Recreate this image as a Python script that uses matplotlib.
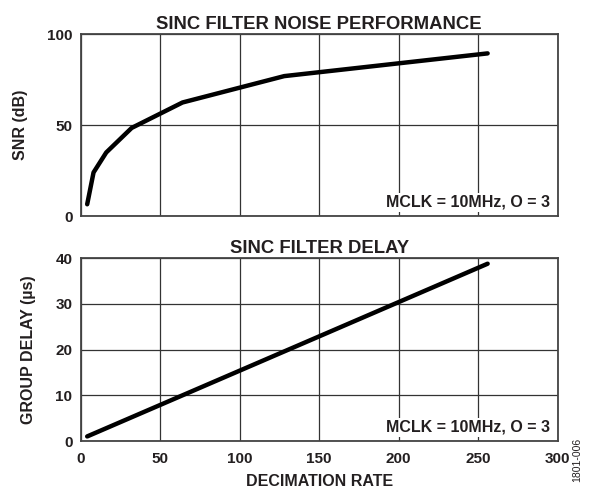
import matplotlib
matplotlib.use("Agg")
import matplotlib.pyplot as plt

plt.rcParams['font.family'] = ['Liberation Sans', 'DejaVu Sans']
plt.rcParams['font.weight'] = 'bold'

# decimation rates (sinc3 filter, MCLK = 10MHz)
decimation = [4, 8, 16, 32, 64, 128, 256]
snr_db = [6.5, 24, 35, 48.5, 62.5, 77, 89.5]
delay_us = [1.0, 1.6, 2.8, 5.2, 10.0, 19.6, 38.8]

x_ticks = [0, 50, 100, 150, 200, 250, 300]
snr_ticks = [0, 50, 100]
delay_ticks = [0, 10, 20, 30, 40]
note = "MCLK = 10MHz, O = 3"

ink = '#231f20'
grid_col = '#333333'

fig = plt.figure(figsize=(5.9, 4.9), dpi=100)
ax1 = fig.add_axes([0.137, 0.559, 0.808, 0.371])
ax2 = fig.add_axes([0.137, 0.100, 0.808, 0.373])


def style(ax, yticks):
    ax.set_xlim(0, 300)
    ax.set_ylim(yticks[0], yticks[-1])
    ax.set_xticks(x_ticks)
    ax.set_yticks(yticks)
    ax.grid(True, color=grid_col, linewidth=0.9)
    ax.tick_params(length=0, colors=ink, labelsize=11)
    ax.tick_params(axis='x', pad=8)
    ax.tick_params(axis='y', pad=6)
    for lab in ax.get_xticklabels() + ax.get_yticklabels():
        lab.set_fontweight('bold')
    for sp in ax.spines.values():
        sp.set_color('#444444')
        sp.set_linewidth(1.3)
    ax.text(0.985, 0.075, note, transform=ax.transAxes, ha='right', va='center',
            fontsize=11.5, fontweight='bold', color=ink, zorder=5,
            bbox=dict(facecolor='white', edgecolor='none', pad=1.5))


style(ax1, snr_ticks)
ax1.plot(decimation, snr_db, color='black', linewidth=3.2, solid_capstyle='round',
         solid_joinstyle='round', zorder=4)
ax1.set_xticklabels([])
ax1.set_ylabel('SNR (dB)', fontsize=11.5, fontweight='bold', color=ink, labelpad=14)
ax1.set_title('SINC FILTER NOISE PERFORMANCE', fontsize=13.3, fontweight='bold',
              color=ink, pad=4)

style(ax2, delay_ticks)
ax2.plot(decimation, delay_us, color='black', linewidth=3.2, solid_capstyle='round',
         zorder=4)
ax2.set_ylabel('GROUP DELAY (µs)', fontsize=11.5, fontweight='bold', color=ink, labelpad=14)
ax2.set_xlabel('DECIMATION RATE', fontsize=11.5, fontweight='bold', color=ink, labelpad=6)
ax2.set_title('SINC FILTER DELAY', fontsize=13.3, fontweight='bold', color=ink, pad=4)

fig.text(0.978, 0.061, '1801-006', rotation=90, fontsize=7.5, fontweight='normal',
         color=ink, ha='center', va='center')

fig.savefig('out.png', dpi=100, facecolor='white')
